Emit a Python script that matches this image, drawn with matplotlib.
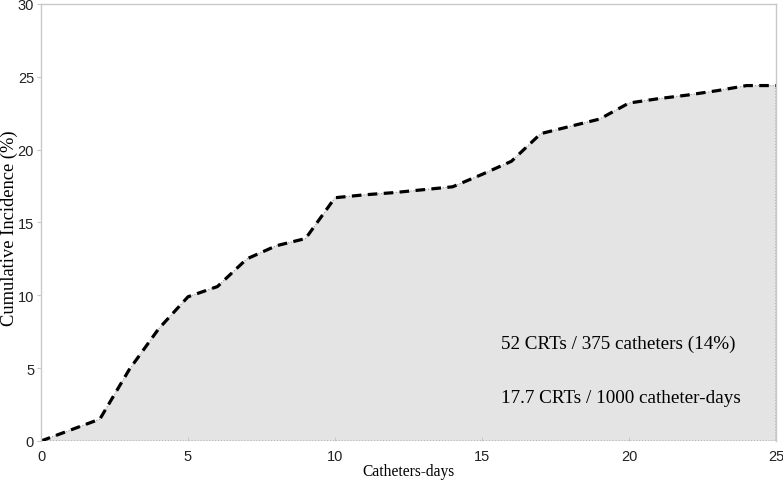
import matplotlib.pyplot as plt
import numpy as np

days = [0, 1, 2, 3, 4, 5, 6, 7, 8, 9, 10, 11, 12, 13, 14, 15, 16, 17, 18, 19, 20, 21, 22, 23, 24, 25]
incidence = [0, 0.75, 1.5, 4.9, 7.7, 9.9, 10.6, 12.5, 13.4, 13.9, 16.7, 16.9, 17.05, 17.25, 17.45,
             18.3, 19.2, 21.1, 21.6, 22.1, 23.2, 23.5, 23.75, 24.05, 24.4, 24.4]

fig = plt.figure(figsize=(7.83, 4.85), dpi=100)
ax = fig.add_axes([0.0524, 0.0887, 0.9386, 0.901])

ax.fill_between(days, incidence, 0, color='#e4e4e4', edgecolor='#999999',
                linestyle=':', linewidth=0.8)
ax.plot([days[-1], days[-1]], [0, incidence[-1]], color='#999999', linestyle=':', linewidth=0.8)
ax.plot(days, incidence, color='black', linestyle=(0, (3, 2)), linewidth=2.3)

ax.set_xlim(0, 25)
ax.set_ylim(0, 30)
ax.set_xticks([0, 5, 10, 15, 20, 25])
ax.set_yticks([0, 5, 10, 15, 20, 25, 30])

for side in ['left', 'top', 'right']:
    ax.spines[side].set_color('#c8c8c8')
    ax.spines[side].set_linewidth(1.0)
ax.spines['bottom'].set_visible(False)
ax.tick_params(colors='#c8c8c8', labelcolor='#222222', labelsize=10.5, length=3, width=0.8, pad=2)
ax.tick_params(axis='x', direction='in', pad=6)
for lbl in ax.get_xticklabels() + ax.get_yticklabels():
    lbl.set_family('Liberation Sans')

ax.set_xlabel('Catheters-days', family='Liberation Serif', fontsize=11.2)
ax.set_ylabel('Cumulative Incidence (%)', family='Liberation Serif', fontsize=13.3)
ax.xaxis.set_label_coords(0.5, -0.05)
ax.yaxis.set_label_coords(-0.031, 0.49)

ax.text(15.65, 6.7, '52 CRTs / 375 catheters (14%)', family='Liberation Serif', fontsize=13.8,
        va='center', ha='left')
ax.text(15.65, 3.0, '17.7 CRTs / 1000 catheter-days', family='Liberation Serif', fontsize=13.8,
        va='center', ha='left')

fig.savefig('out.png', dpi=100)
